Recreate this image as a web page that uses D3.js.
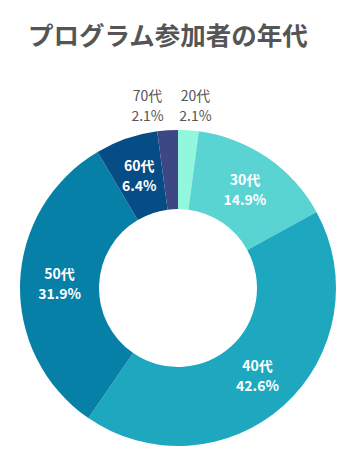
<!DOCTYPE html>
<html>
<head>
<meta charset="utf-8">
<script src="https://cdn.jsdelivr.net/npm/d3@7"></script>
<style>
  body { margin: 0; background: #fff; }
  text { font-family: "Noto Sans CJK JP", "Noto Sans", sans-serif; }
</style>
</head>
<body>
<div id="chart"></div>
<script>
const title = "プログラム参加者の年代";
const ages = ["20代", "30代", "40代", "50代", "60代", "70代"];
const shares = [2.1, 14.9, 42.6, 31.9, 6.4, 2.1];
const colors = ["#91f8dd", "#5ad4d3", "#1ea8c0", "#0780a8", "#064c85", "#3c4784"];

const width = 353, height = 460;
const cx = 178, cy = 288;
const outer = 158, inner = 79;

const svg = d3.select("#chart")
  .append("svg")
  .attr("width", width)
  .attr("height", height);

svg.append("text")
  .attr("x", 28)
  .attr("y", 45)
  .attr("fill", "#555")
  .attr("font-size", 25.5)
  .attr("font-weight", "bold")
  .text(title);

const data = ages.map((a, i) => ({ age: a, value: shares[i], color: colors[i] }));

const pie = d3.pie().sort(null).value(d => d.value);
const arc = d3.arc().innerRadius(inner).outerRadius(outer);

const g = svg.append("g").attr("transform", `translate(${cx},${cy})`);
const arcs = pie(data);

g.selectAll("path")
  .data(arcs)
  .join("path")
  .attr("d", arc)
  .attr("fill", d => d.data.color);

// petites parts : étiquette au-dessus de l'anneau
const small = d => d.data.value < 3;

const labels = g.selectAll("g.lbl")
  .data(arcs)
  .join("g")
  .attr("class", "lbl")
  .attr("transform", d => {
    if (!small(d)) {
      const [x, y] = arc.centroid(d);
      return `translate(${x},${y})`;
    }
    const mid = (d.startAngle + d.endAngle) / 2;
    const x = outer * Math.sin(mid);
    return `translate(${x + (x > 0 ? 7 : -20)},${-outer - 24})`;
  });

labels.append("text")
  .attr("text-anchor", "middle")
  .attr("y", -5)
  .attr("font-size", 14)
  .attr("font-weight", d => small(d) ? "normal" : "bold")
  .attr("fill", d => small(d) ? "#555" : "#fff")
  .text(d => d.data.age);

labels.append("text")
  .attr("text-anchor", "middle")
  .attr("y", 15)
  .attr("font-size", 14)
  .attr("font-weight", d => small(d) ? "normal" : "bold")
  .attr("fill", d => small(d) ? "#555" : "#fff")
  .text(d => d.data.value.toFixed(1) + "%");
</script>
</body>
</html>
